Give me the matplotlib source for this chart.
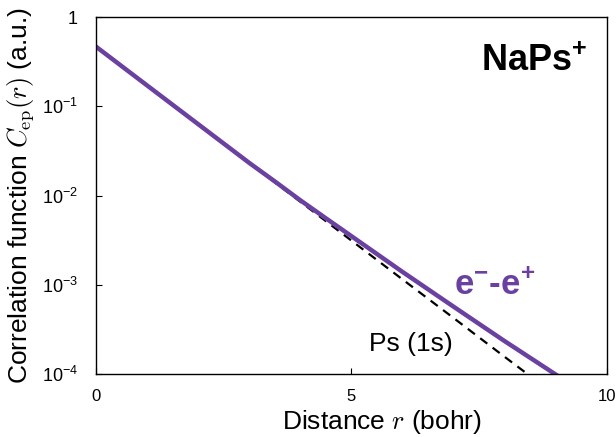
import numpy as np
import matplotlib
matplotlib.use('Agg')
import matplotlib.pyplot as plt

plt.rcParams['font.family'] = ['Liberation Sans', 'DejaVu Sans']
plt.rcParams['mathtext.fontset'] = 'custom'
plt.rcParams['mathtext.rm'] = 'Liberation Sans'
plt.rcParams['mathtext.it'] = 'Liberation Sans:italic'
plt.rcParams['mathtext.bf'] = 'Liberation Sans:bold'

# 数据
r_ep = [0, 1, 2, 3, 3.5, 4, 4.5, 5, 6, 7, 8, 9]
c_ep = [0.465, 0.171, 0.0630, 0.0232, 0.01440, 0.00885, 0.00556, 0.00351,
        0.001396, 0.000569, 0.000234, 0.0000989]

r_ps = [0, 1, 2, 3, 4, 5, 6, 7, 8, 8.5]
c_ps = [0.465, 0.171, 0.0629, 0.0232, 0.00852, 0.00313, 0.00115, 0.000425, 0.000156, 0.000095]

y_ticks = [1e-4, 1e-3, 1e-2, 1e-1, 1]
y_labels = ['$10^{-4}$', '$10^{-3}$', '$10^{-2}$', '$10^{-1}$', '1']
x_ticks = [0, 5, 10]
x_labels = ['0', '5', '10']

fig = plt.figure(figsize=(6.16, 4.37), dpi=100)
ax = fig.add_axes([0.156, 0.144, 0.829, 0.817])

ax.plot(r_ps, c_ps, color='black', linestyle=(0, (4, 3)), linewidth=1.6)
ax.plot(r_ep, c_ep, color='#6a40a0', linewidth=3.2)

ax.set_yscale('log')
ax.set_xlim(0, 10)
ax.set_ylim(1e-4, 1)
ax.set_yticks(y_ticks)
ax.set_yticklabels(y_labels, fontsize=13)
ax.yaxis.set_minor_locator(matplotlib.ticker.NullLocator())
ax.set_xticks(x_ticks)
ax.set_xticklabels(x_labels, fontsize=12)
ax.tick_params(direction='in', length=4, width=0.8)
ax.tick_params(axis='y', pad=13)
ax.tick_params(axis='x', pad=11)

for s in ax.spines.values():
    s.set_linewidth(1.0)

xl = ax.set_xlabel('Distance $r$ (bohr)', fontsize=19)
xl.set_math_fontfamily('cm')
xl.set_va('center')
ax.xaxis.set_label_coords(0.56, -0.134)
yl = ax.set_ylabel(r'Correlation function $C_\mathrm{ep}(r)$ (a.u.)', fontsize=19)
yl.set_math_fontfamily('cm')
yl.set_va('center')
ax.yaxis.set_label_coords(-0.149, 0.5)

ax.text(9.62, 0.32, r'NaPs$^{\mathbf{+}}$', fontsize=26, fontweight='bold', ha='right', va='center')
ax.text(7.0, 1.02e-3, r'e$^{\mathbf{-}}$-e$^{\mathbf{+}}$', fontsize=25, fontweight='bold',
        color='#6a40a0', ha='left', va='center')
ax.text(5.35, 2.15e-4, 'Ps (1s)', fontsize=19, ha='left', va='center')

plt.savefig('out.png', dpi=100)
plt.close()
